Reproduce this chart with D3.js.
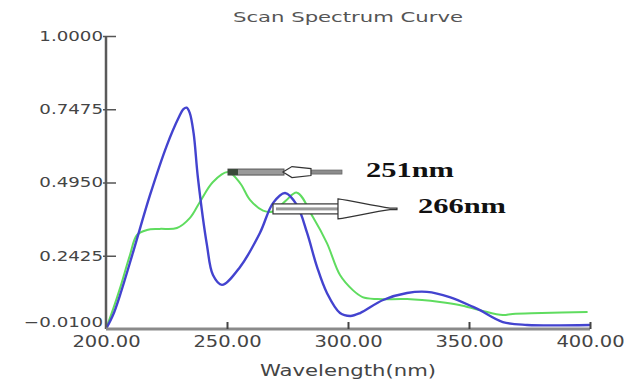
<!DOCTYPE html>
<html>
<head>
<meta charset="utf-8">
<script src="https://cdn.jsdelivr.net/npm/d3@7"></script>
<style>
  html, body { margin: 0; padding: 0; background: #fff; }
  svg { display: block; }
</style>
</head>
<body>
<svg id="chart" width="626" height="386"></svg>
<script>
// ---- data ----
const xTicks = [200, 250, 300, 350, 400];
const yTicks = [-0.01, 0.2425, 0.495, 0.7475, 1.0];

const blueNm  = [200, 202.9, 205.8, 211.2, 218.2, 225.2, 230, 232, 233.3, 234.6, 236.2, 238, 241.7, 244.2, 247.9, 255.4, 263.6, 269, 274, 278.9, 283.1, 287.2, 291.3, 296.7, 301, 305, 314.5, 324.4, 332.6, 342, 351.7, 354.5, 364, 374, 400];
const blueAbs = [-0.01, 0.038, 0.107, 0.255, 0.452, 0.624, 0.718, 0.748, 0.753, 0.735, 0.665, 0.51, 0.28, 0.176, 0.142, 0.204, 0.321, 0.424, 0.459, 0.417, 0.321, 0.204, 0.114, 0.045, 0.035, 0.045, 0.09, 0.114, 0.118, 0.1, 0.066, 0.055, 0.014, 0.004, 0.004];

const greenNm  = [200, 203, 205.8, 209.9, 212.8, 216.9, 222, 229.3, 234.7, 238.8, 244.2, 250.4, 255.4, 259.5, 264.9, 269, 274, 278.9, 285.5, 291.3, 296.7, 302, 306, 312, 324.4, 338, 346, 354.5, 364, 368, 380, 399];
const greenAbs = [-0.01, 0.06, 0.131, 0.245, 0.314, 0.331, 0.335, 0.338, 0.373, 0.428, 0.497, 0.531, 0.493, 0.435, 0.398, 0.395, 0.43, 0.46, 0.376, 0.286, 0.176, 0.124, 0.1, 0.093, 0.093, 0.083, 0.073, 0.055, 0.038, 0.042, 0.045, 0.049];

const annotations = [
  { nm: 250.4, abs: 0.531, label: "251nm", kind: "left" },
  { nm: 269,   abs: 0.404, label: "266nm", kind: "right" }
];

// ---- layout ----
const svg = d3.select("#chart");
const x = d3.scaleLinear().domain([200, 400]).range([106, 590]);
const y = d3.scaleLinear().domain([-0.01, 1.0]).range([329, 36]);
const font = "'DejaVu Sans', Verdana, sans-serif";

function stretch(sel, factor) {
  sel.each(function () {
    const len = this.getComputedTextLength();
    d3.select(this).attr("textLength", len * factor).attr("lengthAdjust", "spacingAndGlyphs");
  });
}

// title
svg.append("text")
  .attr("x", 348).attr("y", 22)
  .attr("text-anchor", "middle")
  .attr("font-family", font).attr("font-size", 14)
  .attr("fill", "#555")
  .attr("textLength", 230).attr("lengthAdjust", "spacingAndGlyphs")
  .text("Scan Spectrum Curve");

// curves
const line = d3.line().x(d => x(d[0])).y(d => y(d[1])).curve(d3.curveCatmullRom.alpha(0.5));
const greenData = greenNm.map((v, i) => [v, greenAbs[i]]);
const blueData = blueNm.map((v, i) => [v, blueAbs[i]]);

svg.append("path").datum(greenData)
  .attr("d", line).attr("fill", "none")
  .attr("stroke", "#5fdc5f").attr("stroke-width", 2);

svg.append("path").datum(blueData)
  .attr("d", line).attr("fill", "none")
  .attr("stroke", "#4343cf").attr("stroke-width", 2.4);

// y axis
const yAxis = svg.append("g")
  .attr("transform", `translate(${x(200)},0)`)
  .call(d3.axisLeft(y).tickValues(yTicks).tickFormat(d3.format(".4f")).tickSize(0));
yAxis.select(".domain").attr("stroke", "#5a5a5a").attr("stroke-width", 2.5)
  .attr("d", `M0,${y(1.0)}V${y(-0.01)}`);
yAxis.selectAll(".tick line")
  .attr("x1", -3).attr("x2", 10).attr("stroke", "#555").attr("stroke-width", 1.5)
  .filter(d => d === -0.01).remove();
yAxis.selectAll(".tick text")
  .attr("x", -3).attr("dy", d => d === -0.01 ? "-0.15em" : "0.32em")
  .attr("font-family", font).attr("font-size", 14).attr("fill", "#444")
  .call(stretch, 1.3);

// x axis
const xAxis = svg.append("g")
  .attr("transform", `translate(0,${y(-0.01)})`)
  .call(d3.axisBottom(x).tickValues(xTicks).tickFormat(d3.format(".2f")).tickSize(0));
xAxis.select(".domain").attr("stroke", "#8a8a8a").attr("stroke-width", 3)
  .attr("d", `M${x(200)},0H${x(400)}`);
xAxis.selectAll(".tick line")
  .attr("y1", 0).attr("y2", -7).attr("stroke", "#444").attr("stroke-width", 2)
  .filter(d => d === 200).remove();
xAxis.selectAll(".tick text")
  .attr("y", 18).attr("dy", 0)
  .attr("font-family", font).attr("font-size", 15).attr("fill", "#444")
  .call(stretch, 1.3);

// x axis title
svg.append("text")
  .attr("x", 348).attr("y", 376)
  .attr("text-anchor", "middle")
  .attr("font-family", font).attr("font-size", 15)
  .attr("fill", "#444")
  .attr("textLength", 176).attr("lengthAdjust", "spacingAndGlyphs")
  .text("Wavelength(nm)");

// annotations
annotations.forEach(a => {
  const x0 = x(a.nm), y0 = y(a.abs);
  const g = svg.append("g").attr("transform", `translate(${x0},${y0})`);
  if (a.kind === "left") {
    g.append("rect").attr("x", 0).attr("y", -3).attr("width", 56).attr("height", 6)
      .attr("fill", "#9a9a9a").attr("stroke", "#555").attr("stroke-width", 1);
    g.append("rect").attr("x", 0).attr("y", -3).attr("width", 10).attr("height", 6)
      .attr("fill", "#3a4a3a");
    g.append("rect").attr("x", 82).attr("y", -2).attr("width", 32).attr("height", 4)
      .attr("fill", "#8c8c8c").attr("stroke", "#666").attr("stroke-width", 0.8);
    g.append("path")
      .attr("d", "M55,0 L64,-5.5 L83,-3.5 L83,3.5 L64,5.5 Z")
      .attr("fill", "#fff").attr("stroke", "#333").attr("stroke-width", 1.2);
    svg.append("text")
      .attr("x", 366).attr("y", 177)
      .attr("font-family", "'Liberation Serif', 'Times New Roman', serif")
      .attr("font-weight", "bold").attr("font-size", 21).attr("fill", "#111")
      .attr("textLength", 88).attr("lengthAdjust", "spacingAndGlyphs")
      .text(a.label);
  } else {
    g.append("rect").attr("x", 0).attr("y", -5).attr("width", 68).attr("height", 10)
      .attr("fill", "#fff").attr("stroke", "#333").attr("stroke-width", 1.2);
    g.append("rect").attr("x", 3).attr("y", -1.5).attr("width", 63).attr("height", 3)
      .attr("fill", "#999");
    g.append("path")
      .attr("d", "M65,-10 C80,-8 100,-3 117,-0.8 L124,-0.8 L124,0.8 L117,0.8 C100,3 80,8 65,10 Z")
      .attr("fill", "#fff").attr("stroke", "#333").attr("stroke-width", 1.2);
    svg.append("text")
      .attr("x", 418).attr("y", 213)
      .attr("font-family", "'Liberation Serif', 'Times New Roman', serif")
      .attr("font-weight", "bold").attr("font-size", 21).attr("fill", "#111")
      .attr("textLength", 88).attr("lengthAdjust", "spacingAndGlyphs")
      .text(a.label);
  }
});
</script>
</body>
</html>
